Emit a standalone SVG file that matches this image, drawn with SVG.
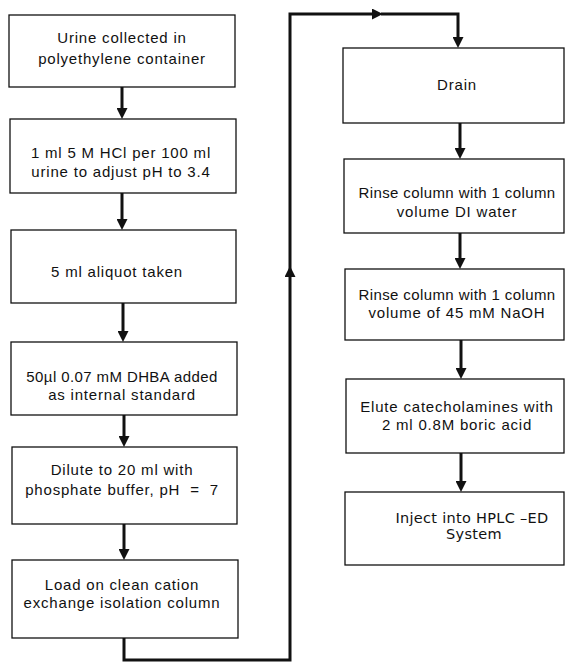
<svg xmlns="http://www.w3.org/2000/svg" width="565" height="662" viewBox="0 0 565 662">
<style>
.box{fill:#fff;stroke:#111;stroke-width:1.3}
.t{font-family:"Liberation Sans",Arial,sans-serif;font-size:15px;letter-spacing:0.8px;fill:#111;text-anchor:middle;white-space:pre}
.tt{letter-spacing:0.4px}
.d{font-family:"DejaVu Sans",Verdana,sans-serif;font-size:14.5px;letter-spacing:0.3px;fill:#111;text-anchor:middle}
.c{fill:none;stroke:#111;stroke-width:3;marker-end:url(#ah)}
</style>
<defs>
<marker id="ah" viewBox="0 0 10 10" refX="6.4" refY="5" markerWidth="11" markerHeight="11" markerUnits="userSpaceOnUse" orient="auto">
<path d="M0,0 L10,5 L0,10 z" fill="#111"/>
</marker>
</defs>
<rect width="565" height="662" fill="#fff"/>
<g id="connectors">
<path class="c" d="M122 87 V115"/>
<path class="c" d="M122 193 V226"/>
<path class="c" d="M123 303 V338"/>
<path class="c" d="M124 415 V443"/>
<path class="c" d="M124 524 V556"/>
<path class="c" d="M124 638 V660 H290 V270"/>
<path class="c" d="M290 272 V14 H379"/>
<path class="c" d="M381 14 H458 V44"/>
<path class="c" d="M460 123 V155"/>
<path class="c" d="M460 233 V265"/>
<path class="c" d="M461 340 V375"/>
<path class="c" d="M461 453 V488"/>
</g>
<g id="n1"><rect class="box" x="9" y="15" width="226" height="72"/>
<text class="t" x="122" y="43">Urine collected in</text>
<text class="t" x="122" y="64">polyethylene container</text></g>
<g id="n2"><rect class="box" x="10" y="119" width="226" height="74"/>
<text class="t" x="121" y="158">1 ml 5 M HCl per 100 ml</text>
<text class="t" x="121" y="177">urine to adjust pH to 3.4</text></g>
<g id="n3"><rect class="box" x="11" y="230" width="225" height="73"/>
<text class="t" x="117" y="277">5 ml aliquot taken</text></g>
<g id="n4"><rect class="box" x="11" y="342" width="226" height="73"/>
<text class="t tt" x="122" y="382">50µl 0.07 mM DHBA added</text>
<text class="t" x="122" y="400">as internal standard</text></g>
<g id="n5"><rect class="box" x="12" y="447" width="225" height="77"/>
<text class="t" x="122" y="475">Dilute to 20 ml with</text>
<text class="t" x="122" y="495">phosphate buffer, pH  =  7</text></g>
<g id="n6"><rect class="box" x="12" y="560" width="226" height="78"/>
<text class="t" x="122" y="590">Load on clean cation</text>
<text class="t" x="122" y="608">exchange isolation column</text></g>
<g id="n7"><rect class="box" x="343" y="48" width="221" height="75"/>
<text class="t" x="457" y="90">Drain</text></g>
<g id="n8"><rect class="box" x="344" y="159" width="220" height="74"/>
<text class="t tt" x="457" y="198">Rinse column with 1 column</text>
<text class="t" x="457" y="217">volume DI water</text></g>
<g id="n9"><rect class="box" x="345" y="269" width="219" height="71"/>
<text class="t tt" x="457" y="300">Rinse column with 1 column</text>
<text class="t" x="457" y="318">volume of 45 mM NaOH</text></g>
<g id="n10"><rect class="box" x="346" y="379" width="218" height="74"/>
<text class="t" x="457" y="412">Elute catecholamines with</text>
<text class="t" x="457" y="430">2 ml 0.8M boric acid</text></g>
<g id="n11"><rect class="box" x="345" y="492" width="219" height="73"/>
<text class="d" x="472" y="523">Inject into HPLC –ED</text>
<text class="d" x="474" y="539">System</text></g>
</svg>
